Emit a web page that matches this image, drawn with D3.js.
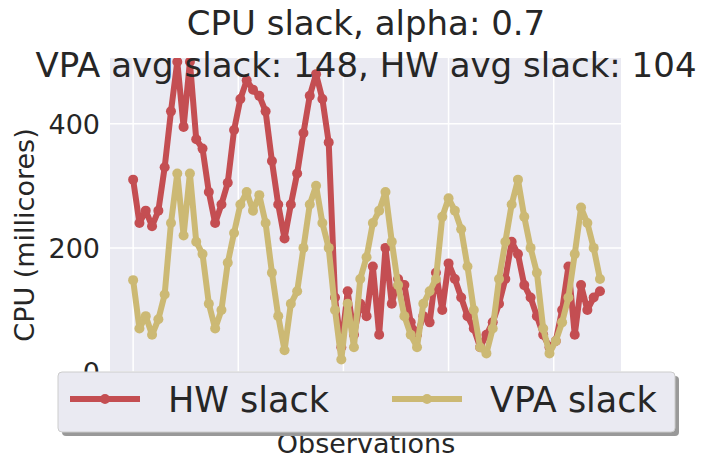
<!DOCTYPE html>
<html><head><meta charset="utf-8">
<script src="https://cdn.jsdelivr.net/npm/d3@7"></script>
<style>body{margin:0;background:#fff}text{font-family:"DejaVu Sans",sans-serif;fill:#262626}</style>
</head><body><svg id="c" width="719" height="469"></svg>
<script>
// observation index step between sampled points
var step = 3;
var hwSlack = [310,240,260,235,260,330,420,500,395,500,375,360,290,240,270,305,390,440,470,455,445,420,340,270,215,270,320,385,445,480,440,370,120,40,130,60,110,90,170,60,200,110,150,140,80,60,90,80,160,100,175,150,120,90,70,40,60,80,110,150,210,190,140,120,90,60,40,50,100,170,60,140,100,120,130];
var vpaSlack = [148,70,90,60,85,125,240,320,220,320,210,190,110,70,100,176,224,270,290,260,285,240,160,90,35,110,130,200,270,300,240,200,100,20,110,40,150,185,240,260,290,210,140,90,60,40,110,130,150,250,280,260,230,170,100,40,30,70,150,210,270,310,250,200,160,70,30,50,80,120,190,265,240,200,150];
var yTicks = [0,200,400];
var xTicks = [0,50,100,150,200];

var svg = d3.select("#c");
var L = 110, R = 621, T = 58, B = 372;
var x = d3.scaleLinear().domain([-11, 232]).range([L, R]);
var y = d3.scaleLinear().domain([0, 506]).range([B, T]);

svg.append("rect").attr("x", L).attr("y", T).attr("width", R - L).attr("height", B - T).attr("fill", "#eaeaf2");
svg.selectAll(".gx").data(xTicks).enter().append("line")
  .attr("x1", d => x(d)).attr("x2", d => x(d)).attr("y1", T).attr("y2", B)
  .attr("stroke", "#fff").attr("stroke-width", 1.5);
svg.selectAll(".gy").data(yTicks).enter().append("line")
  .attr("x1", L).attr("x2", R).attr("y1", d => y(d)).attr("y2", d => y(d))
  .attr("stroke", "#fff").attr("stroke-width", 1.5);

svg.append("defs").append("clipPath").attr("id", "clip")
  .append("rect").attr("x", L).attr("y", T).attr("width", R - L).attr("height", B - T);
var g = svg.append("g").attr("clip-path", "url(#clip)");

function series(vals, color) {
  var pts = vals.map((v, i) => [i * step, v]);
  g.append("path").datum(pts)
    .attr("d", d3.line().x(d => x(d[0])).y(d => y(d[1])))
    .attr("fill", "none").attr("stroke", color).attr("stroke-width", 6).attr("stroke-linejoin", "round");
  g.selectAll(null).data(pts).enter().append("circle")
    .attr("cx", d => x(d[0])).attr("cy", d => y(d[1])).attr("r", 5).attr("fill", color);
}
series(hwSlack, "#c44e52");
series(vpaSlack, "#ccb974");

svg.selectAll(".yl").data(yTicks).enter().append("text")
  .attr("x", L - 10).attr("y", d => y(d) + 10).attr("text-anchor", "end")
  .attr("font-size", 27).text(d => d);

svg.append("text").attr("transform", "translate(34,235) rotate(-90)")
  .attr("text-anchor", "middle").attr("font-size", 27).text("CPU (millicores)");
svg.append("text").attr("x", 366).attr("y", 453).attr("text-anchor", "middle")
  .attr("font-size", 27).text("Observations");

svg.append("text").attr("x", 366).attr("y", 35).attr("text-anchor", "middle")
  .attr("font-size", 34).text("CPU slack, alpha: 0.7");
svg.append("text").attr("x", 366).attr("y", 77).attr("text-anchor", "middle")
  .attr("font-size", 34).text("VPA avg slack: 148, HW avg slack: 104");

// legend
svg.append("rect").attr("x", 62).attr("y", 376).attr("width", 617).attr("height", 60)
  .attr("rx", 4).attr("fill", "#999");
svg.append("rect").attr("x", 58).attr("y", 372).attr("width", 617).attr("height", 60)
  .attr("rx", 4).attr("fill", "#eaeaf2").attr("stroke", "#ccc");
var items = [["HW slack", "#c44e52", 70], ["VPA slack", "#ccb974", 392]];
items.forEach(function (it) {
  svg.append("line").attr("x1", it[2]).attr("x2", it[2] + 70).attr("y1", 399).attr("y2", 399)
    .attr("stroke", it[1]).attr("stroke-width", 6);
  svg.append("circle").attr("cx", it[2] + 35).attr("cy", 399).attr("r", 5).attr("fill", it[1]);
  svg.append("text").attr("x", it[2] + 98).attr("y", 412).attr("font-size", 35).text(it[0]);
});
</script></body></html>
